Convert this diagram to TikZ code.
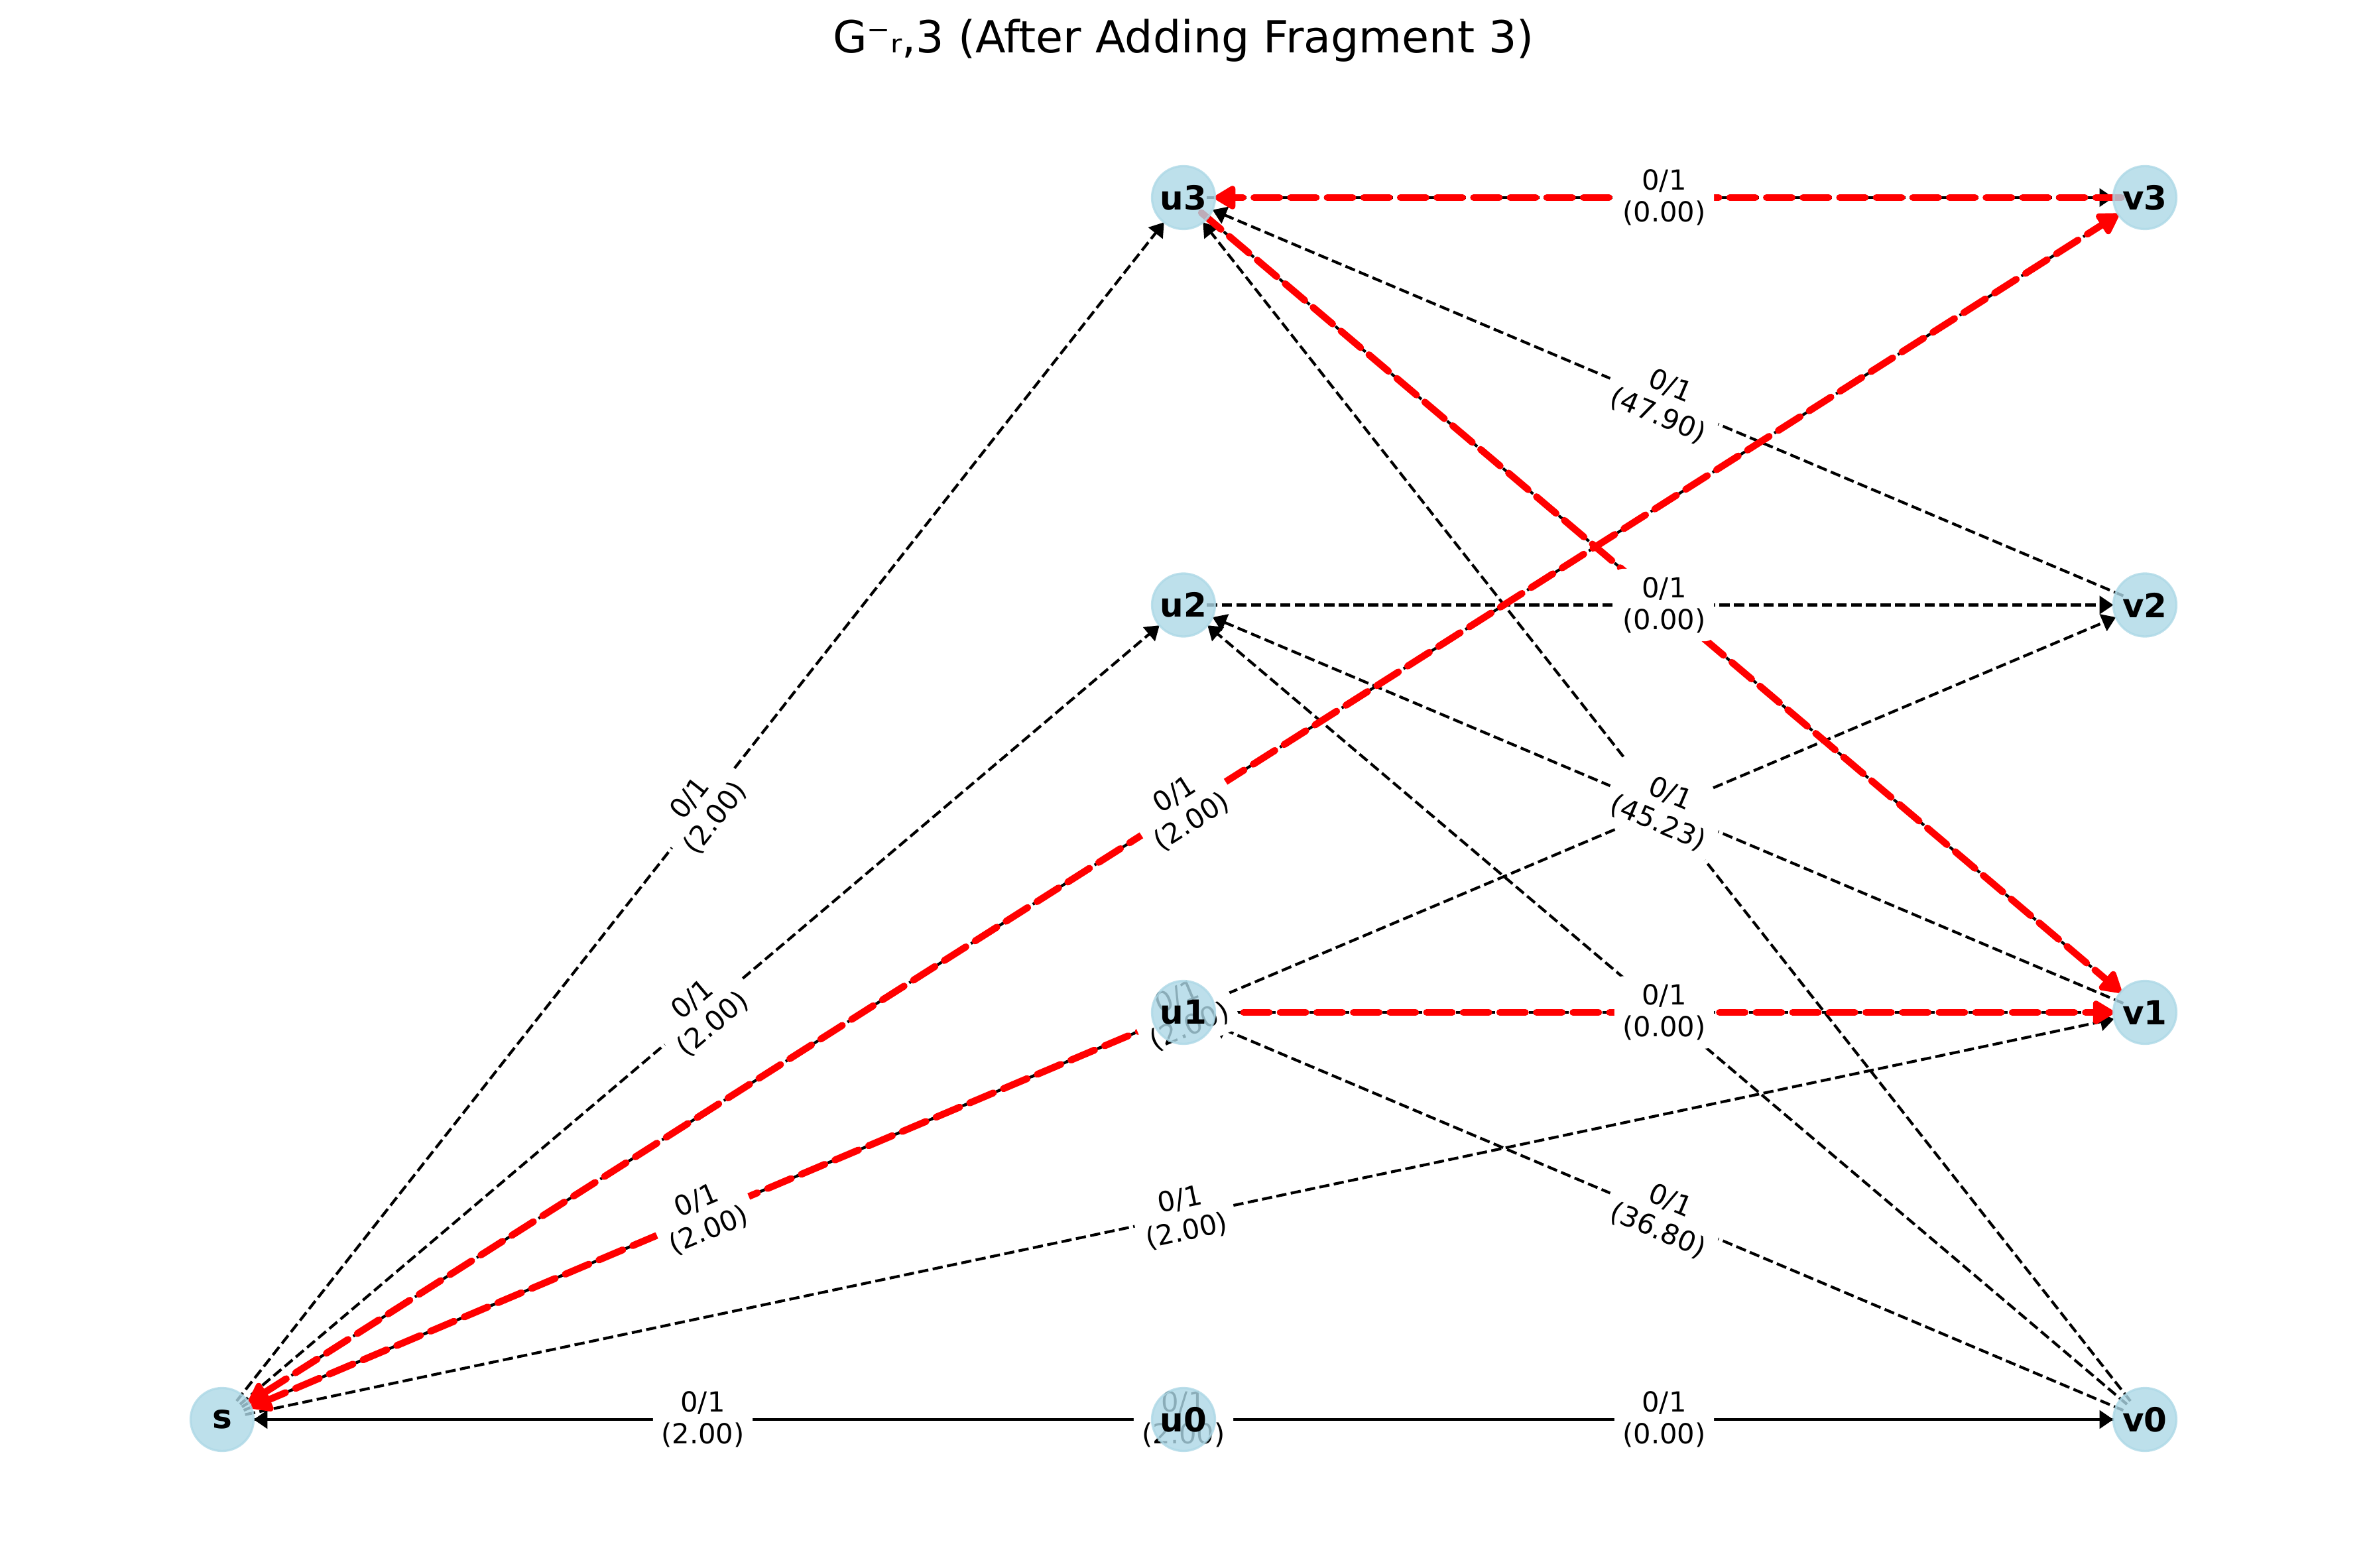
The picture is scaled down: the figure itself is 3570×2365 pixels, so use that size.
\documentclass[tikz,border=0pt]{standalone}
\usepackage{fontspec}
\setmainfont{DejaVu Sans}
\usetikzlibrary{arrows.meta}
\pgfdeclarelayer{edges}
\pgfdeclarelayer{labels}
\pgfsetlayers{edges,labels,main}
\definecolor{nxblue}{HTML}{ADD8E6}
\begin{document}
\begin{tikzpicture}[x=0.24pt,y=-0.24pt,
 vtx/.style={circle, minimum size=22.8pt, inner sep=0pt, outer sep=0pt, fill=nxblue, fill opacity=0.8, draw=nxblue, draw opacity=0.8, line width=0.8pt, text opacity=1, font=\fontsize{12pt}{14pt}\selectfont\bfseries},
 blk/.style={black, line width=1pt, dash pattern=on 3.7pt off 1.6pt, -{Triangle[length=5pt,width=6.5pt]}, shorten <=-2.9pt},
 sol/.style={black, line width=1.1pt, -{Triangle[length=5pt,width=6.5pt]}, shorten <=-2.9pt},
 solplain/.style={black, line width=1.1pt},
 rd/.style={red, line width=2.5pt, dash pattern=on 9.25pt off 4pt, line cap=round, -{Triangle[length=8.5pt,width=9.5pt,round]}, shorten <=-2.9pt},
 rdboth/.style={red, line width=2.5pt, dash pattern=on 9.25pt off 4pt, line cap=round, {Triangle[length=8.5pt,width=9.5pt,round]}-{Triangle[length=8.5pt,width=9.5pt,round]}},
 lbl/.style={fill=white, rounded corners=3pt, inner sep=3pt, align=center, font=\fontsize{10pt}{11.5pt}\selectfont, sloped}
]
\useasboundingbox (0,0) rectangle (3570,2365);

% title
\node[font=\fontsize{16pt}{19pt}\selectfont, anchor=base] (title) at (1785,80) {G⁻ᵣ,3 (After Adding Fragment 3)};

% vertices
\node[vtx] (s)  at (335,2141) {s};
\node[vtx] (u0) at (1785,2141) {u0};
\node[vtx] (u1) at (1785,1527) {u1};
\node[vtx] (u2) at (1785,912.5) {u2};
\node[vtx] (u3) at (1785,298) {u3};
\node[vtx] (v0) at (3235,2141) {v0};
\node[vtx] (v1) at (3235,1527) {v1};
\node[vtx] (v2) at (3235,912.5) {v2};
\node[vtx] (v3) at (3235,298) {v3};

\begin{pgfonlayer}{edges}
% black dashed edges
\draw[blk] (s) -- (u3);
\draw[blk] (s) -- (u2);
\draw[blk] (s) -- (v3);
\draw[blk] (u1) -- (s);
\draw[blk] (s) -- (v1);
\draw[blk] (s) -- (v2);
\draw[blk] (u1) -- (v1);
\draw[blk] (v0) -- (u1);
\draw[blk] (u2) -- (v2);
\draw[blk] (v1) -- (u2);
\draw[blk] (v0) -- (u2);
\draw[blk] (v2) -- (u3);
\draw[blk] (v0) -- (u3);
\draw[blk] (u3) -- (v1);
\draw[blk] (u3) -- (v3);
% horizontal bottom row
\draw[solplain] (s) -- (v0);
\draw[sol] (u0) -- (s);
\draw[sol] (u0) -- (v0);
% red highlighted edges
\draw[rd] (u1) -- (s);
\draw[rdboth] (s) -- (v3);
\draw[rd] (u1) -- (v1);
\draw[rd] (u3) -- (v1);
\draw[rd] (v3) -- (u3);
\end{pgfonlayer}

\begin{pgfonlayer}{labels}
\path (s) -- node[lbl] (l1) {0/1\\(2.00)} (u3);
\path (s) -- node[lbl] (l2) {0/1\\(2.00)} (u2);
\path (s) -- node[lbl] (l3) {0/1\\(2.00)} (v3);
\path (s) -- node[lbl] (l4) {0/1\\(2.00)} (u1);
\path (s) -- node[lbl] (l5) {0/1\\(2.00)} (v1);
\path (s) -- node[lbl] (l6) {0/1\\(2.00)} (u0);
\path (s) -- node[lbl] (l7) {0/1\\(2.00)} (v0);
\path (s) -- node[lbl] (l8) {0/1\\(2.00)} (v2);
\path (u0) -- node[lbl] (l9) {0/1\\(0.00)} (v0);
\path (u1) -- node[lbl] (l10) {0/1\\(0.00)} (v1);
\path (u1) -- node[lbl] (l11) {0/1\\(36.80)} (v0);
\path (u2) -- node[lbl] (l12) {0/1\\(45.23)} (v1);
\path (u2) -- node[lbl] (l13) {0/1\\(0.00)} (v2);
\path (u3) -- node[lbl] (l14) {0/1\\(47.90)} (v2);
\path (u3) -- node[lbl] (l15) {0/1\\(0.00)} (v3);
\end{pgfonlayer}
\end{tikzpicture}
\end{document}
